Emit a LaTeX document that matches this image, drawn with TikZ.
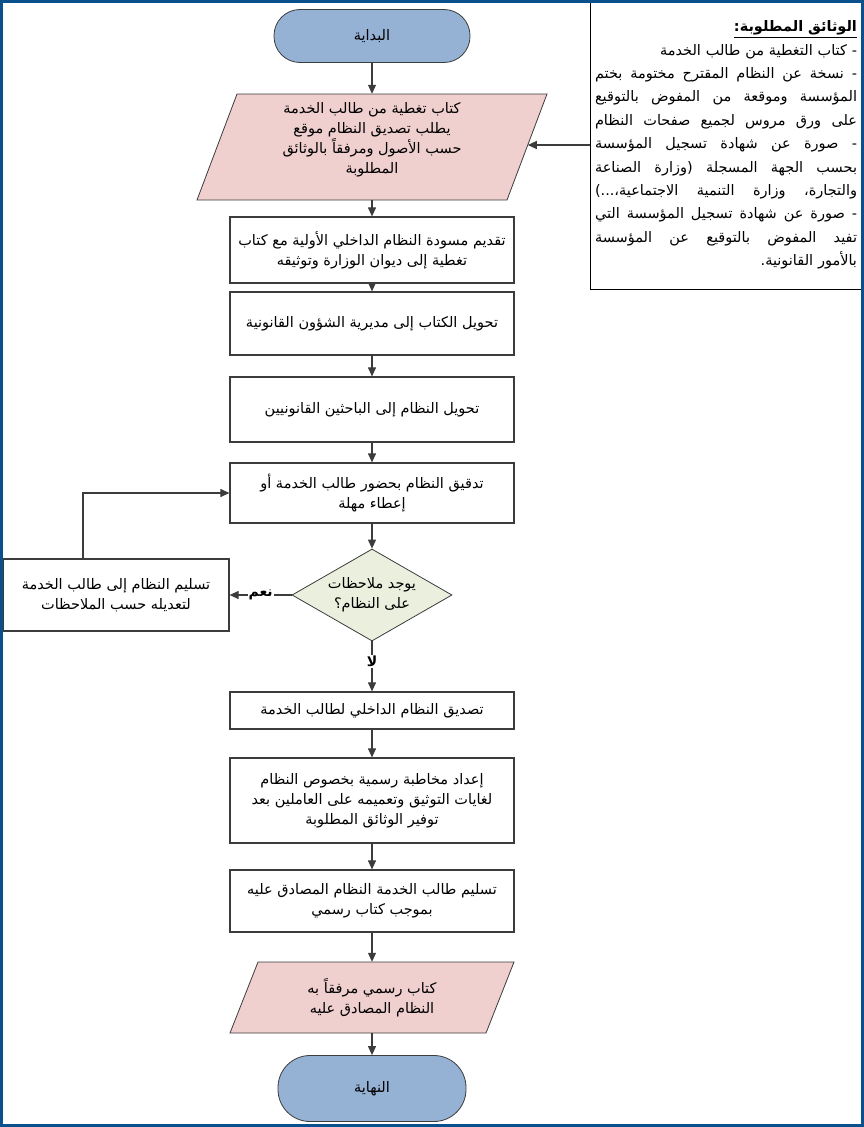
\documentclass[tikz,border=0pt]{standalone}
\usepackage{fontspec}
\usetikzlibrary{arrows.meta,shapes.geometric}
\newfontfamily\arabicfont[Script=Arabic]{DejaVu Sans}
\TeXXeTstate=1
\newcommand\AR[1]{\beginR #1\endR}
\newcommand\JL[1]{\leavevmode\hbox to 262pt{\beginR #1\endR}}
\newcommand\s{\hskip 4pt plus 1fil\relax}
\definecolor{termfill}{RGB}{149,177,212}
\definecolor{iofill}{RGB}{240,207,207}
\definecolor{decfill}{RGB}{235,240,222}
\definecolor{framecol}{RGB}{10,80,140}
\definecolor{linecol}{RGB}{60,60,60}
\tikzset{
  every node/.style={font=\arabicfont\fontsize{14.5}{20}\selectfont},
  proc/.style={draw=linecol, line width=1.2pt, fill=white, minimum width=284pt, align=center, inner sep=0pt},
  term/.style={draw=linecol, line width=0.8pt, fill=termfill, rounded corners=26pt, minimum height=53pt, inner sep=0pt},
  iotext/.style={minimum width=310pt, align=center, inner sep=0pt},
  iopath/.style={draw=linecol, line width=0.8pt, fill=iofill},
  decision/.style={diamond, draw=linecol, fill=decfill, minimum width=160pt, minimum height=92pt, inner sep=0pt, line width=0.8pt},
  arr/.style={draw=linecol, line width=1.1pt, -{Triangle[width=8pt,length=9pt]}},
  lbl/.style={fill=white, font=\arabicfont\bfseries\fontsize{14}{16}\selectfont, inner sep=1pt},
}
\begin{document}
\begin{tikzpicture}[x=1pt,y=-1pt]
\useasboundingbox (0,0) rectangle (864,1127);
% start
\node[term, minimum width=196pt] (start) at (372,36) {\AR{البداية}};
% parallelogram 1
\path[iopath] (237,94) -- (547,94) -- (507,200) -- (197,200) -- cycle;
\node[iotext, minimum height=106pt] (p1) at (372,147) {};
\node[align=center, inner sep=0pt] (p1t) at (372,140) {\AR{كتاب تغطية من طالب الخدمة}\\\AR{يطلب تصديق النظام موقع}\\\AR{حسب الأصول ومرفقاً بالوثائق}\\\AR{المطلوبة}};
\coordinate (p1e) at (527.8,145);
% boxes
\node[proc, minimum height=66pt] (b2) at (372,250) {\AR{تقديم مسودة النظام الداخلي الأولية مع كتاب}\\\AR{تغطية إلى ديوان الوزارة وتوثيقه}};
\node[proc, minimum height=63pt] (b3) at (372,323.5) {\AR{تحويل الكتاب إلى مديرية الشؤون القانونية}};
\node[proc, minimum height=65pt] (b4) at (372,409.5) {\AR{تحويل النظام إلى الباحثين القانونيين}};
\node[proc, minimum height=60pt] (b5) at (372,493) {\AR{تدقيق النظام بحضور طالب الخدمة أو}\\\AR{إعطاء مهلة}};
\node[decision] (d) at (372,595) {};
\node[align=center, inner sep=0pt] (dt) at (372,595) {\AR{يوجد ملاحظات}\\\AR{على النظام؟}};
\node[proc, minimum width=226pt, minimum height=72pt] (lb) at (116,595) {\AR{تسليم النظام إلى طالب الخدمة}\\\AR{لتعديله حسب الملاحظات}};
\node[proc, minimum height=37pt] (b6) at (372,710.5) {\AR{تصديق النظام الداخلي لطالب الخدمة}};
\node[proc, minimum height=85pt] (b7) at (372,800.5) {\AR{إعداد مخاطبة رسمية بخصوص النظام}\\\AR{لغايات التوثيق وتعميمه على العاملين بعد}\\\AR{توفير الوثائق المطلوبة}};
\node[proc, minimum height=62pt] (b8) at (372,901) {\AR{تسليم طالب الخدمة النظام المصادق عليه}\\\AR{بموجب كتاب رسمي}};
% parallelogram 2
\path[iopath] (258,962) -- (514,962) -- (486,1033) -- (230,1033) -- cycle;
\node[iotext, minimum width=256pt, minimum height=71pt] (p2) at (372,997.5) {\AR{كتاب رسمي مرفقاً به}\\\AR{النظام المصادق عليه}};
% end
\node[term, minimum width=188pt, minimum height=66pt, rounded corners=32pt] (end) at (372,1088.5) {\AR{النهاية}};
% side box
\node[draw=black, line width=1pt, fill=white, minimum width=272pt, minimum height=288pt, text width=262pt, align=right, inner sep=5pt, font=\arabicfont\fontsize{14.5}{23.4}\selectfont] (side) at (726,145) {%
\underline{\bfseries\AR{الوثائق المطلوبة:}}\\
\AR{- كتاب التغطية من طالب الخدمة}\\
\JL{-\s نسخة\s عن\s النظام\s المقترح\s مختومة\s بختم}\\
\JL{المؤسسة\s وموقعة\s من\s المفوض\s بالتوقيع}\\
\JL{على\s ورق\s مروس\s لجميع\s صفحات\s النظام}\\
\JL{-\s صورة\s عن\s شهادة\s تسجيل\s المؤسسة}\\
\JL{بحسب\s الجهة\s المسجلة\s (وزارة\s الصناعة}\\
\JL{والتجارة،\s وزارة\s التنمية\s الاجتماعية،...)}\\
\JL{-\s صورة\s عن\s شهادة\s تسجيل\s المؤسسة\s التي}\\
\JL{تفيد\s المفوض\s بالتوقيع\s عن\s المؤسسة}\\
\AR{بالأمور القانونية.}};
% connectors
\draw[arr] (start.south) -- (p1.north);
\draw[arr] (side.west) -- (p1e);
\draw[arr] (p1.south) -- (b2.north);
\draw[arr] (b2.south) -- (b3.north);
\draw[arr] (b3.south) -- (b4.north);
\draw[arr] (b4.south) -- (b5.north);
\draw[arr] (b5.south) -- (d.north);
\draw[arr] (d.west) -- node[lbl, pos=0.5] {\AR{نعم}} (lb.east);
\draw[arr] (d.south) -- node[lbl, pos=0.4] {\AR{لا}} (b6.north);
\draw[arr] ([xshift=-33pt]lb.north) |- (b5.west);
\draw[arr] (b6.south) -- (b7.north);
\draw[arr] (b7.south) -- (b8.north);
\draw[arr] (b8.south) -- (p2.north);
\draw[arr] (p2.south) -- (end.north);
% frame
\draw[framecol, line width=3pt] (1.5,1.5) rectangle (862.5,1125.5);
\end{tikzpicture}
\end{document}
